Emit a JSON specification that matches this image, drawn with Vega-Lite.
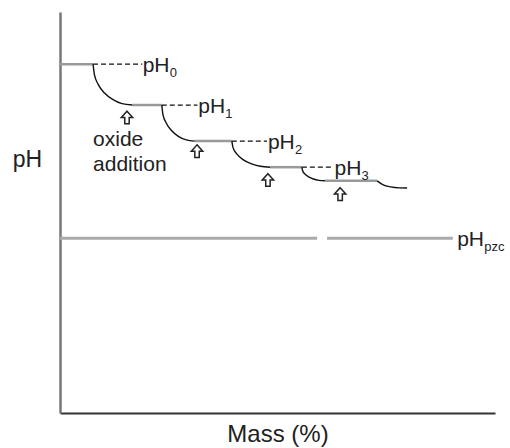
{
  "$schema": "https://vega.github.io/schema/vega-lite/v6.json",
  "width": 435,
  "height": 401,
  "autosize": "none",
  "padding": {"left": 60, "top": 12, "right": 15, "bottom": 35},
  "background": "white",
  "config": {
    "view": {"stroke": null},
    "font": "Liberation Sans",
    "axis": {"ticks": false, "labels": false, "grid": false, "titleFontWeight": "normal", "titleFont": "Liberation Sans", "titleColor": "#222"}
  },
  "datasets": {
    "plateaus": [
      {"seg": "s0", "mass": 0, "pH": 8.70}, {"seg": "s0", "mass": 7.6, "pH": 8.70},
      {"seg": "s1", "mass": 16.6, "pH": 7.68}, {"seg": "s1", "mass": 23.4, "pH": 7.68},
      {"seg": "s2", "mass": 31.0, "pH": 6.78}, {"seg": "s2", "mass": 39.5, "pH": 6.78},
      {"seg": "s3", "mass": 48.3, "pH": 6.13}, {"seg": "s3", "mass": 55.6, "pH": 6.13},
      {"seg": "s4", "mass": 60.9, "pH": 5.79}, {"seg": "s4", "mass": 72.9, "pH": 5.79}
    ],
    "drops": [
      {"seg": "c1", "mass": 7.6, "pH": 8.70}, {"seg": "c1", "mass": 7.91, "pH": 8.436}, {"seg": "c1", "mass": 8.81, "pH": 8.19}, {"seg": "c1", "mass": 10.24, "pH": 7.98}, {"seg": "c1", "mass": 12.1, "pH": 7.82}, {"seg": "c1", "mass": 14.27, "pH": 7.715}, {"seg": "c1", "mass": 16.6, "pH": 7.68},
      {"seg": "c2", "mass": 23.4, "pH": 7.68}, {"seg": "c2", "mass": 23.66, "pH": 7.447}, {"seg": "c2", "mass": 24.42, "pH": 7.23}, {"seg": "c2", "mass": 25.63, "pH": 7.044}, {"seg": "c2", "mass": 27.2, "pH": 6.90}, {"seg": "c2", "mass": 29.03, "pH": 6.81}, {"seg": "c2", "mass": 31.0, "pH": 6.78},
      {"seg": "c3", "mass": 39.5, "pH": 6.78}, {"seg": "c3", "mass": 39.8, "pH": 6.612}, {"seg": "c3", "mass": 40.68, "pH": 6.455}, {"seg": "c3", "mass": 42.08, "pH": 6.32}, {"seg": "c3", "mass": 43.9, "pH": 6.217}, {"seg": "c3", "mass": 46.02, "pH": 6.152}, {"seg": "c3", "mass": 48.3, "pH": 6.13},
      {"seg": "c4", "mass": 55.6, "pH": 6.13}, {"seg": "c4", "mass": 55.78, "pH": 6.042}, {"seg": "c4", "mass": 56.31, "pH": 5.96}, {"seg": "c4", "mass": 57.15, "pH": 5.89}, {"seg": "c4", "mass": 58.25, "pH": 5.836}, {"seg": "c4", "mass": 59.53, "pH": 5.802}, {"seg": "c4", "mass": 60.9, "pH": 5.79},
      {"seg": "c5", "mass": 72.9, "pH": 5.79}, {"seg": "c5", "mass": 74.3, "pH": 5.69}, {"seg": "c5", "mass": 76.0, "pH": 5.64}, {"seg": "c5", "mass": 78.0, "pH": 5.615}, {"seg": "c5", "mass": 79.8, "pH": 5.61}
    ],
    "leaders": [
      {"seg": "d0", "mass": 7.6, "pH": 8.70}, {"seg": "d0", "mass": 18.9, "pH": 8.70},
      {"seg": "d1", "mass": 23.4, "pH": 7.68}, {"seg": "d1", "mass": 31.6, "pH": 7.68},
      {"seg": "d2", "mass": 39.5, "pH": 6.78}, {"seg": "d2", "mass": 47.6, "pH": 6.78},
      {"seg": "d3", "mass": 55.6, "pH": 6.13}, {"seg": "d3", "mass": 62.9, "pH": 6.13}
    ],
    "pzc": [
      {"seg": "p0", "mass": 0, "pH": 4.36}, {"seg": "p0", "mass": 59.1, "pH": 4.36},
      {"seg": "p1", "mass": 61.4, "pH": 4.36}, {"seg": "p1", "mass": 90.3, "pH": 4.36}
    ],
    "additions": [
      {"mass": 15.4, "pH": 7.37},
      {"mass": 31.5, "pH": 6.53},
      {"mass": 47.8, "pH": 5.81},
      {"mass": 64.4, "pH": 5.46}
    ],
    "labels": [
      {"label": "pH", "sub": "0", "mass": 19.0, "pH": 8.70},
      {"label": "pH", "sub": "1", "mass": 31.8, "pH": 7.68},
      {"label": "pH", "sub": "2", "mass": 47.8, "pH": 6.78},
      {"label": "pH", "sub": "3", "mass": 63.1, "pH": 6.13},
      {"label": "pH", "sub": "pzc", "mass": 91.3, "pH": 4.36}
    ],
    "notes": [
      {"label": "oxide", "mass": 7.6, "pH": 6.81},
      {"label": "addition", "mass": 7.6, "pH": 6.18}
    ]
  },
  "encoding": {
    "x": {"field": "mass", "type": "quantitative", "scale": {"domain": [0, 100], "nice": false, "zero": false},
          "axis": {"title": "Mass (%)", "domainColor": "#333", "domainWidth": 2, "titleFontSize": 24, "titleBaseline": "middle", "titleY": 21}},
    "y": {"field": "pH", "type": "quantitative", "scale": {"domain": [0, 10], "nice": false, "zero": false},
          "axis": {"title": "pH", "domainColor": "#777", "domainWidth": 2.5, "titleFontSize": 23, "titleAngle": 0, "titleAlign": "center", "titleBaseline": "middle", "titleX": -33, "titleY": 147}}
  },
  "layer": [
    {"data": {"name": "pzc"}, "mark": {"type": "line", "color": "#aaa", "strokeWidth": 3}, "encoding": {"detail": {"field": "seg"}}},
    {"data": {"name": "plateaus"}, "mark": {"type": "line", "color": "#999", "strokeWidth": 2.5}, "encoding": {"detail": {"field": "seg"}}},
    {"data": {"name": "drops"}, "mark": {"type": "line", "color": "#111", "strokeWidth": 1.4, "interpolate": "monotone"}, "encoding": {"detail": {"field": "seg"}}},
    {"data": {"name": "leaders"}, "mark": {"type": "line", "color": "#111", "strokeWidth": 1.3, "strokeDash": [5, 3]}, "encoding": {"detail": {"field": "seg"}}},
    {"data": {"name": "additions"}, "mark": {"type": "point", "shape": "M0,-1L0.9,0L0.35,0L0.35,1L-0.35,1L-0.35,0L-0.9,0Z", "size": 160, "filled": false, "fill": "white", "stroke": "#222", "strokeWidth": 1.5, "opacity": 1}},
    {"data": {"name": "labels"}, "mark": {"type": "text", "align": "left", "baseline": "middle", "fontSize": 21, "color": "#222", "dy": 2}, "encoding": {"text": {"field": "label"}}},
    {"data": {"name": "labels"}, "mark": {"type": "text", "align": "left", "baseline": "middle", "fontSize": 13, "color": "#222", "dx": 27, "dy": 9}, "encoding": {"text": {"field": "sub"}}},
    {"data": {"name": "notes"}, "mark": {"type": "text", "align": "left", "baseline": "middle", "fontSize": 21, "color": "#222"}, "encoding": {"text": {"field": "label"}}}
  ]
}
